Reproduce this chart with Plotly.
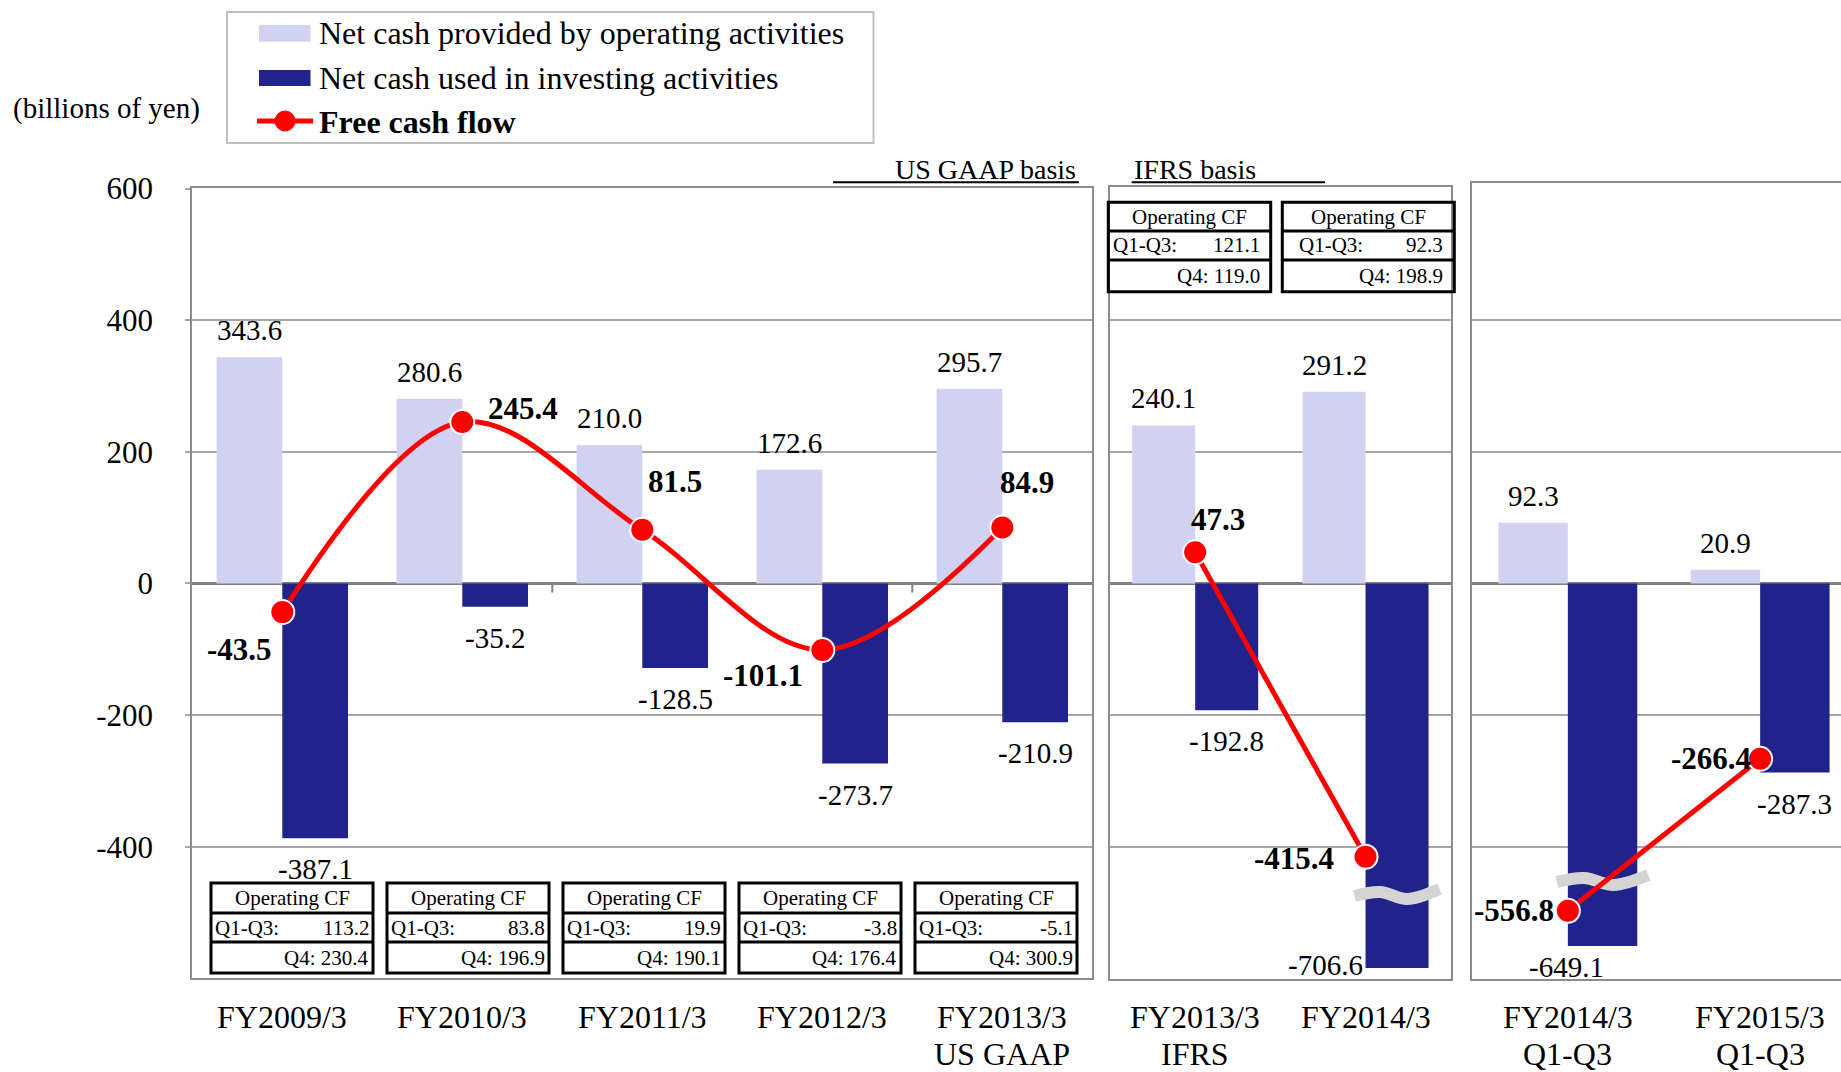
import plotly.graph_objects as go

# ---------------- data ----------------
categories_usgaap = ["FY2009/3", "FY2010/3", "FY2011/3", "FY2012/3", "FY2013/3<br>US GAAP"]
operating_usgaap = [343.6, 280.6, 210.0, 172.6, 295.7]
investing_usgaap = [-387.1, -35.2, -128.5, -273.7, -210.9]
fcf_usgaap = [-43.5, 245.4, 81.5, -101.1, 84.9]
opcf_q1q3_usgaap = [113.2, 83.8, 19.9, -3.8, -5.1]
opcf_q4_usgaap = [230.4, 196.9, 190.1, 176.4, 300.9]

categories_ifrs = ["FY2013/3<br>IFRS", "FY2014/3"]
operating_ifrs = [240.1, 291.2]
investing_ifrs = [-192.8, -706.6]
fcf_ifrs = [47.3, -415.4]
opcf_q1q3_ifrs = [121.1, 92.3]
opcf_q4_ifrs = [119.0, 198.9]

categories_q = ["FY2014/3<br>Q1-Q3", "FY2015/3<br>Q1-Q3"]
operating_q = [92.3, 20.9]
investing_q = [-649.1, -287.3]
fcf_q = [-556.8, -266.4]

y_tick_values = [-400, -200, 0, 200, 400, 600]
y_tick_labels = ["-400", "-200", "0", "200", "400", "600"]
series_names = ["Net cash provided by operating activities",
                "Net cash used in investing activities",
                "Free cash flow"]
unit_label = "(billions of yen)"
basis_labels = ["US GAAP basis", "IFRS basis"]
table_header = "Operating CF"
row_labels = ["Q1-Q3:", "Q4:"]

# ---------------- style / layout constants ----------------
W, H = 1841, 1072
FONT = "Liberation Serif"
LIGHT = "#D1D2F2"
DARK = "#22238A"
RED = "#FF0000"
GRID = "#A6A6A6"
BORDER = "#8C8C8C"
ZERO = "#808080"

ZERO_PX = 583.3          # pixel row of value 0
PX_PER_UNIT = 0.6585     # pixels per billion yen
BREAK_AT = -415.0        # axis break: values below are compressed
BREAK_SCALE = 0.58


def shown(v):
    """Value as drawn on the broken axis."""
    return v if v >= BREAK_AT else BREAK_AT + BREAK_SCALE * (v - BREAK_AT)


def val_at_px(py):
    return (ZERO_PX - py) / PX_PER_UNIT


def px_x(px):
    return px / W


def px_y(py):
    return 1 - py / H


panels = [
    dict(cats=categories_usgaap, op=operating_usgaap, inv=investing_usgaap, fcf=fcf_usgaap,
         x0=192.3, x1=1092.3, top=188.3, bottom=978.3, unit_px=180.0, bar_w=0.365,
         spline=True, ticklabels=True, mirror=True, squiggle_px=None,
         fcf_off=[(-43, 37), (61, -13), (33, -48), (-59, 25), (25, -45)]),
    dict(cats=categories_ifrs, op=operating_ifrs, inv=investing_ifrs, fcf=fcf_ifrs,
         x0=1110.0, x1=1450.7, top=186.7, bottom=979.3, unit_px=170.35, bar_w=0.37,
         spline=False, ticklabels=False, mirror=True, squiggle_px=894,
         fcf_off=[(23, -33), (-72, 2)]),
    dict(cats=categories_q, op=operating_q, inv=investing_q, fcf=fcf_q,
         x0=1471.7, x1=1841.0, top=183.3, bottom=979.3, unit_px=192.3, bar_w=0.361,
         spline=False, ticklabels=False, mirror=False, squiggle_px=880,
         fcf_off=[(-54, 0), (-49, 0)]),
]
# special placement of some investing labels (panel index, category index): (dx, dy) px, dy down
inv_label_special = {(1, 1): (-72, -3), (2, 0): (-36, 21)}

fig = go.Figure()
annotations = []
shapes = []


def txt(text, x, y, xref="paper", yref="paper", size=29, xanchor="center", yanchor="middle",
        xshift=0, yshift=0):
    annotations.append(dict(text=text, x=x, y=y, xref=xref, yref=yref, showarrow=False,
                            xanchor=xanchor, yanchor=yanchor, xshift=xshift, yshift=yshift,
                            font=dict(family=FONT, size=size, color="black")))


for p, pan in enumerate(panels):
    n = p + 1
    xa = "x" if n == 1 else f"x{n}"
    ya = "y" if n == 1 else f"y{n}"
    idx = list(range(len(pan["cats"])))
    bw = pan["bar_w"]

    fig.add_trace(go.Bar(x=idx, y=pan["op"], width=bw, offset=-bw, marker=dict(color=LIGHT, line_width=0),
                         xaxis=xa, yaxis=ya, showlegend=False, name=series_names[0]))
    fig.add_trace(go.Bar(x=idx, y=[shown(v) for v in pan["inv"]], width=bw, offset=0,
                         marker=dict(color=DARK, line_width=0),
                         xaxis=xa, yaxis=ya, showlegend=False, name=series_names[1]))

    # axis-break squiggles on broken bars
    for i, v in enumerate(pan["inv"]):
        if v < BREAK_AT and pan["squiggle_px"] is not None:
            ext = 11 / pan["unit_px"]
            xs0, xs1 = i - ext, i + bw + ext
            ts = [0, 0.3, 0.62, 1.0]
            dys = [2, -2, 5, -5]
            fig.add_trace(go.Scatter(
                x=[xs0 + t * (xs1 - xs0) for t in ts],
                y=[val_at_px(pan["squiggle_px"] + d) for d in dys],
                mode="lines", line=dict(color="#D4D4D4", width=12, shape="spline"),
                xaxis=xa, yaxis=ya, showlegend=False, hoverinfo="skip"))

    fig.add_trace(go.Scatter(
        x=idx, y=[shown(v) for v in pan["fcf"]], mode="lines+markers",
        line=dict(color=RED, width=5, shape="spline" if pan["spline"] else "linear", smoothing=1.0),
        marker=dict(color=RED, size=24, line=dict(color="white", width=2)),
        xaxis=xa, yaxis=ya, showlegend=False, name=series_names[2]))

    # labels
    for i, v in enumerate(pan["op"]):
        txt(f"{v:.1f}", i - bw / 2, v, xa, ya, size=29, yshift=27)
    for i, v in enumerate(pan["inv"]):
        dx, dy = inv_label_special.get((p, i), (0, 31))
        txt(f"{v:.1f}", i + bw / 2, shown(v), xa, ya, size=29, xshift=dx, yshift=-dy)
    for i, v in enumerate(pan["fcf"]):
        dx, dy = pan["fcf_off"][i]
        txt(f"<b>{v:.1f}</b>", i, shown(v), xa, ya, size=31, xshift=dx, yshift=-dy)
    # category labels
    for i, c in enumerate(pan["cats"]):
        for li, line in enumerate(c.split("<br>")):
            txt(line, i, px_y(1017 + 37 * li), xa, "paper", size=32)

    xr = [-0.5, -0.5 + (pan["x1"] - pan["x0"]) / pan["unit_px"]]
    yr = [val_at_px(pan["bottom"]), val_at_px(pan["top"]) + 0.5]
    xkey = "xaxis" if n == 1 else f"xaxis{n}"
    ykey = "yaxis" if n == 1 else f"yaxis{n}"
    tv = y_tick_values if pan["ticklabels"] else y_tick_values[:-1]
    tt = y_tick_labels if pan["ticklabels"] else y_tick_labels[:-1]
    fig.layout[xkey] = dict(domain=[px_x(pan["x0"]), min(1.0, px_x(pan["x1"]))], range=xr, anchor=ya,
                            showgrid=False, zeroline=False, showticklabels=False, ticks="",
                            automargin=False,
                            showline=True, mirror=True, linecolor=BORDER, linewidth=2, fixedrange=True)
    fig.layout[ykey] = dict(domain=[px_y(pan["bottom"]), px_y(pan["top"])], range=yr, anchor=xa,
                            tickmode="array", tickvals=tv, ticktext=tt,
                            showticklabels=pan["ticklabels"], automargin=False,
                            ticks="outside" if pan["ticklabels"] else "", ticklen=5, tickcolor=GRID, tickwidth=2,
                            ticklabelstandoff=26,
                            tickfont=dict(family=FONT, size=31, color="black"),
                            showgrid=True, gridcolor=GRID, gridwidth=2,
                            zeroline=True, zerolinecolor=ZERO, zerolinewidth=3,
                            showline=True, mirror=pan["mirror"], linecolor=BORDER, linewidth=2,
                            fixedrange=True)

# small category tick marks on the zero line of the first panel
for k in [1.5, 3.5]:
    shapes.append(dict(type="line", xref="x", yref="y", x0=k, x1=k, y0=0, y1=val_at_px(ZERO_PX + 9),
                       line=dict(color=ZERO, width=2)))


# ---------------- operating CF tables ----------------
def add_table(left, right, top, r1, r2, bottom, q1q3, q4, pad_l, pad_r):
    shapes.append(dict(type="rect", xref="paper", yref="paper", x0=px_x(left), x1=px_x(right),
                       y0=px_y(bottom), y1=px_y(top), line=dict(color="black", width=3)))
    for yy in (r1, r2):
        shapes.append(dict(type="line", xref="paper", yref="paper", x0=px_x(left), x1=px_x(right),
                           y0=px_y(yy), y1=px_y(yy), line=dict(color="black", width=3)))
    txt(table_header, px_x((left + right) / 2), px_y((top + r1) / 2), size=21)
    txt(row_labels[0], px_x(left + pad_l), px_y((r1 + r2) / 2), size=21, xanchor="left")
    txt(f"{q1q3:.1f}", px_x(right - pad_r), px_y((r1 + r2) / 2), size=21, xanchor="right")
    txt(f"{row_labels[1]}\u00a0{q4:.1f}", px_x(right - pad_r), px_y((r2 + bottom) / 2), size=21,
        xanchor="right")


for i in range(len(opcf_q1q3_usgaap)):
    left = 211 + 176 * i
    add_table(left, left + 162, 883, 913, 942, 973, opcf_q1q3_usgaap[i], opcf_q4_usgaap[i], 2, 2)

top_tables = [(1108.3, 1270.7, 3, 9), (1282.3, 1454.3, 15, 9)]
for i, (l, r, pl, pr) in enumerate(top_tables):
    add_table(l, r, 202.3, 231, 260, 291.7, opcf_q1q3_ifrs[i], opcf_q4_ifrs[i], pl, pr)

# ---------------- legend (drawn) ----------------
shapes.append(dict(type="rect", xref="paper", yref="paper", x0=px_x(227), x1=px_x(873.5),
                   y0=px_y(143), y1=px_y(12), line=dict(color="#BFBFBF", width=2)))
shapes.append(dict(type="rect", xref="paper", yref="paper", x0=px_x(259), x1=px_x(310.5),
                   y0=px_y(41.7), y1=px_y(25), fillcolor=LIGHT, line=dict(width=0)))
shapes.append(dict(type="rect", xref="paper", yref="paper", x0=px_x(259), x1=px_x(310.5),
                   y0=px_y(86), y1=px_y(70), fillcolor=DARK, line=dict(width=0)))
shapes.append(dict(type="line", xref="paper", yref="paper", x0=px_x(257), x1=px_x(313),
                   y0=px_y(121), y1=px_y(121), line=dict(color=RED, width=5)))
shapes.append(dict(type="circle", xref="paper", yref="paper", x0=px_x(275), x1=px_x(295),
                   y0=px_y(131), y1=px_y(111), fillcolor=RED, line=dict(color=RED, width=1)))
for k, (name, yc) in enumerate(zip(series_names, [33, 78, 121.5])):
    txt(f"<b>{name}</b>" if k == 2 else name, px_x(317), px_y(yc), size=32, xanchor="left")

# ---------------- other texts ----------------
txt(unit_label, px_x(11), px_y(108), size=29, xanchor="left")
txt(basis_labels[0], px_x(1078), px_y(169), size=28, xanchor="right")
txt(basis_labels[1], px_x(1131.7), px_y(169), size=28, xanchor="left")
shapes.append(dict(type="line", xref="paper", yref="paper", x0=px_x(833), x1=px_x(1079),
                   y0=px_y(182.3), y1=px_y(182.3), line=dict(color="black", width=2)))
shapes.append(dict(type="line", xref="paper", yref="paper", x0=px_x(1131.7), x1=px_x(1325),
                   y0=px_y(182.3), y1=px_y(182.3), line=dict(color="black", width=2)))

fig.update_layout(width=W, height=H, margin=dict(l=0, r=0, t=0, b=0, autoexpand=False),
                  paper_bgcolor="white", plot_bgcolor="white", barmode="overlay",
                  showlegend=False, annotations=annotations, shapes=shapes,
                  font=dict(family=FONT, color="black"))

fig.write_html("out.html", config={"displayModeBar": False},
               post_script="document.body.style.margin='0';document.body.style.overflow='hidden';")
